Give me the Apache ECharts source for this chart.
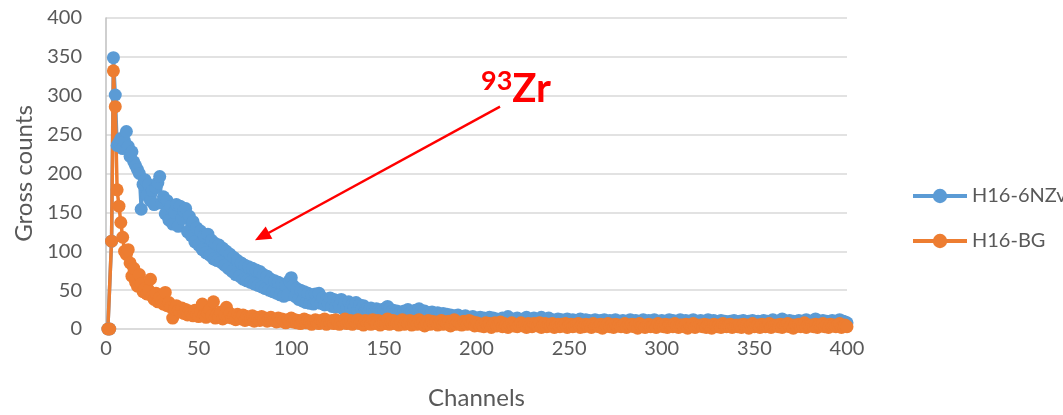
<!DOCTYPE html>
<html>
<head>
<meta charset="utf-8">
<script src="https://cdn.jsdelivr.net/npm/echarts@6/dist/echarts.min.js"></script>
<style>
  html, body { margin: 0; padding: 0; background: #fff; }
  #chart { width: 1063px; height: 415px; }
</style>
</head>
<body>
<div id="chart"></div>
<script>
// Gross counts per channel (channels 1..400)
const sampleName = 'H16-6NZv';
const backgroundName = 'H16-BG';

const sampleCounts = [
  0, 0, 113, 349, 301, 236, 240, 245, 232, 242, 254, 235, 222, 228, 215, 210, 205, 200, 154, 186,
  192, 172, 186, 165, 178, 160, 182, 188, 196, 162, 170, 148, 165, 140, 158, 135, 150, 160, 132, 158,
  142, 152, 155, 125, 145, 120, 138, 112, 130, 108, 126, 102, 120, 98, 122, 95, 114, 90, 110, 88,
  108, 86, 104, 82, 100, 78, 96, 74, 92, 70, 88, 68, 85, 64, 82, 62, 80, 60, 78, 58,
  76, 56, 74, 54, 70, 52, 68, 50, 64, 48, 62, 46, 60, 44, 58, 42, 56, 44, 62, 66,
  56, 42, 52, 38, 50, 36, 48, 34, 46, 33, 44, 32, 45, 34, 46, 33, 40, 31, 38, 32,
  40, 29, 38, 28, 36, 30, 38, 26, 34, 27, 35, 25, 32, 28, 34, 24, 31, 26, 30, 25,
  26, 23, 27, 25, 22, 26, 24, 21, 25, 23, 27, 29, 26, 22, 24, 21, 23, 20, 22, 19,
  23, 21, 25, 20, 22, 19, 24, 21, 26, 22, 20, 23, 19, 21, 18, 22, 20, 17, 21, 19,
  18, 20, 16, 19, 17, 18, 15, 17, 16, 18, 14, 16, 15, 17, 13, 15, 14, 16, 12, 14,
  13, 15, 12, 14, 11, 13, 15, 12, 14, 11, 13, 10, 12, 14, 11, 13, 16, 12, 10, 13,
  11, 14, 12, 10, 13, 11, 15, 12, 10, 12, 14, 11, 9, 13, 15, 11, 10, 12, 14, 10,
  12, 9, 11, 13, 10, 12, 9, 11, 13, 10, 9, 12, 10, 9, 11, 13, 9, 10, 12, 9,
  11, 9, 10, 12, 9, 10, 11, 9, 12, 10, 9, 11, 9, 10, 12, 9, 10, 9, 11, 9,
  10, 9, 12, 9, 10, 11, 9, 9, 10, 12, 9, 9, 11, 10, 9, 12, 9, 10, 9, 11,
  9, 10, 9, 12, 9, 11, 9, 10, 9, 12, 10, 9, 11, 9, 10, 9, 12, 9, 10, 9,
  11, 9, 10, 9, 12, 9, 9, 11, 10, 9, 9, 11, 9, 10, 9, 8, 10, 9, 11, 9,
  9, 10, 9, 11, 9, 9, 10, 9, 11, 9, 9, 10, 9, 9, 11, 9, 10, 9, 9, 12,
  10, 9, 9, 11, 13, 9, 10, 9, 11, 9, 10, 9, 9, 11, 9, 10, 9, 12, 9, 10,
  9, 11, 13, 9, 10, 9, 11, 9, 10, 9, 9, 11, 9, 10, 9, 12, 9, 10, 9, 8
];

const backgroundCounts = [
  0, 0, 113, 332, 286, 179, 158, 137, 118, 100, 96, 102, 85, 68, 78, 60, 55, 70, 58, 48,
  52, 45, 50, 64, 42, 38, 46, 35, 40, 36, 32, 47, 30, 34, 28, 14, 26, 30, 24, 22,
  27, 20, 25, 18, 23, 21, 17, 24, 19, 16, 22, 32, 18, 15, 20, 25, 17, 35, 14, 19,
  16, 22, 13, 18, 28, 15, 20, 14, 17, 12, 19, 15, 13, 18, 11, 16, 14, 12, 17, 10,
  15, 13, 11, 16, 12, 14, 10, 13, 15, 11, 12, 9, 14, 10, 13, 11, 8, 12, 10, 14,
  9, 12, 8, 11, 7, 10, 13, 8, 11, 9, 6, 10, 12, 8, 7, 11, 9, 13, 6, 10,
  8, 11, 7, 12, 9, 6, 10, 8, 13, 7, 9, 11, 6, 10, 8, 12, 7, 9, 5, 11,
  8, 10, 6, 12, 9, 7, 11, 5, 8, 10, 7, 13, 6, 9, 11, 7, 8, 5, 10, 12,
  6, 9, 7, 11, 5, 8, 10, 6, 12, 7, 9, 4, 8, 11, 6, 10, 7, 9, 5, 8,
  11, 6, 9, 7, 10, 4, 8, 12, 6, 9, 7, 5, 10, 8, 6, 11, 7, 9, 4, 8,
  7, 4, 6, 3, 8, 5, 7, 2, 6, 8, 4, 5, 9, 3, 7, 5, 2, 6, 8, 4,
  6, 3, 5, 8, 4, 6, 2, 7, 5, 3, 7, 6, 4, 8, 2, 5, 7, 3, 6, 4,
  7, 2, 5, 6, 3, 6, 4, 7, 2, 5, 6, 3, 4, 6, 7, 2, 5, 3, 6, 4,
  5, 2, 7, 4, 5, 3, 6, 1, 5, 4, 7, 3, 5, 2, 6, 4, 5, 3, 5, 7,
  2, 5, 4, 6, 3, 5, 1, 7, 4, 5, 2, 5, 6, 3, 4, 5, 2, 7, 4, 5,
  3, 6, 2, 5, 5, 3, 7, 4, 2, 5, 5, 3, 6, 1, 5, 4, 7, 2, 5, 4,
  5, 3, 6, 2, 5, 4, 1, 6, 5, 3, 5, 2, 7, 4, 3, 5, 6, 2, 4, 5,
  3, 5, 2, 6, 4, 5, 1, 5, 7, 3, 4, 5, 2, 6, 5, 3, 4, 7, 2, 5,
  4, 5, 3, 6, 2, 5, 4, 7, 3, 5, 1, 5, 4, 6, 3, 5, 8, 2, 5, 4,
  5, 3, 6, 2, 5, 4, 7, 3, 5, 2, 6, 4, 5, 3, 5, 7, 2, 4, 5, 3
];

const firstChannel = 1;
const xTicks = [0, 50, 100, 150, 200, 250, 300, 350, 400];
const yTicks = [0, 50, 100, 150, 200, 250, 300, 350, 400];

// Annotation arrow: tail and head in data coordinates (channel, counts)
const arrowFrom = [212.7, 286];
const arrowTo = [84.2, 119];

const BLUE = '#5B9BD5';
const ORANGE = '#ED7D31';
const TEXT = '#595959';
const FONT = 'Lato, "Open Sans", sans-serif';

const toPairs = (arr) => arr.map((v, i) => [firstChannel + i, v]);

const chart = echarts.init(document.getElementById('chart'), null, { renderer: 'canvas' });

const makeSeries = (name, values, color) => ({
  name,
  type: 'line',
  data: toPairs(values),
  symbol: 'circle',
  symbolSize: 13,
  showAllSymbol: true,
  itemStyle: { color },
  lineStyle: { color, width: 3.5 },
  emphasis: { disabled: true }
});

const bgSeries = makeSeries(backgroundName, backgroundCounts, ORANGE);
bgSeries.markLine = {
  silent: true,
  symbol: ['none', 'triangle'],
  symbolSize: [14, 16],
  lineStyle: { color: '#FF0000', width: 2.4, type: 'solid' },
  label: { show: false },
  data: [[{ coord: arrowFrom }, { coord: arrowTo }]]
};

chart.setOption({
  animation: false,
  textStyle: { fontFamily: FONT },
  grid: { left: 106, right: 216, top: 18, bottom: 85 },
  legend: {
    orient: 'vertical',
    left: 906,
    top: 181,
    itemWidth: 54,
    itemHeight: 18,
    itemGap: 25,
    lineStyle: { width: 4 },
    textStyle: { color: TEXT, fontSize: 20, fontFamily: FONT },
    data: [sampleName, backgroundName]
  },
  xAxis: {
    type: 'value',
    min: xTicks[0],
    max: xTicks[xTicks.length - 1],
    interval: xTicks[1] - xTicks[0],
    name: 'Channels',
    nameLocation: 'middle',
    nameGap: 57,
    nameTextStyle: { color: TEXT, fontSize: 24, fontFamily: FONT },
    axisLine: { show: true, lineStyle: { color: '#D9D9D9', width: 1.5 } },
    axisTick: { show: false },
    splitLine: { show: false },
    axisLabel: { color: TEXT, fontSize: 20, margin: 10, fontFamily: FONT }
  },
  yAxis: {
    type: 'value',
    min: yTicks[0],
    max: yTicks[yTicks.length - 1],
    interval: yTicks[1] - yTicks[0],
    name: 'Gross counts',
    nameLocation: 'middle',
    nameGap: 69,
    nameTextStyle: { color: TEXT, fontSize: 24, fontFamily: FONT },
    axisLine: { show: true, lineStyle: { color: '#BFBFBF', width: 1.5 } },
    axisTick: { show: false },
    splitLine: { show: true, lineStyle: { color: '#D9D9D9', width: 1.5 } },
    axisLabel: { color: TEXT, fontSize: 20, margin: 24, fontFamily: FONT }
  },
  series: [makeSeries(sampleName, sampleCounts, BLUE), bgSeries]
});

// Isotope label placed just beyond the arrow tail
const tail = chart.convertToPixel({ gridIndex: 0 }, arrowFrom);
chart.setOption({
  graphic: [{
    type: 'text',
    left: tail[0] - 19,
    top: tail[1] - 39,
    style: {
      text: '{sup|93}{main|Zr}',
      rich: {
        sup: { fontSize: 27, fontWeight: 'bold', fill: '#FF0000', fontFamily: FONT, verticalAlign: 'top', padding: [0, 0, 16, 0] },
        main: { fontSize: 40, fontWeight: 'bold', fill: '#FF0000', fontFamily: FONT }
      }
    }
  }]
});
</script>
</body>
</html>
